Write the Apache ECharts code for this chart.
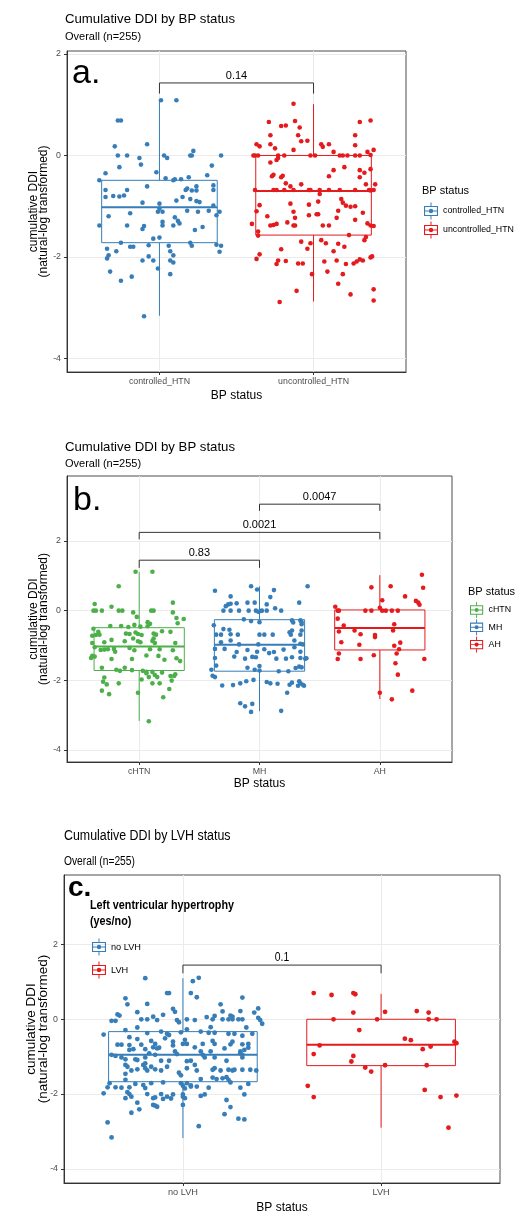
<!DOCTYPE html>
<html>
<head>
<meta charset="utf-8">
<script src="https://cdn.jsdelivr.net/npm/echarts@6/dist/echarts.min.js"></script>
<style>
html, body { margin: 0; padding: 0; background: #fff; }
#chart { width: 521px; height: 1218px; }
</style>
</head>
<body>
<div id="chart"></div>
<script>
// panel a: controlled vs uncontrolled HTN
var groupsA = ['controlled_HTN', 'uncontrolled_HTN'];
var boxA = [[-3.16, -1.72, -1.02, -0.49, 1.10], [-2.88, -1.57, -0.70, 0.00, 1.01]];
var bracketsA = [[1, 2, 1.43, 1.22]];
var pvalsA = ['0.14'];
// points are [jitter, value]
var pointsControlled = [[0.01,1.09],[0.11,1.09],[-0.27,0.69],[-0.25,0.69],[-0.29,0.18],[-0.08,0.22],[-0.27,0],[-0.21,0],[-0.13,-0.05],[0.03,0],[0.05,-0.05],[0.20,0],[0.22,0.09],[0.21,0],[0.40,0],[-0.26,-0.23],[-0.12,-0.18],[-0.02,-0.33],[0.34,-0.20],[-0.35,-0.35],[0.31,-0.39],[-0.39,-0.49],[0.04,-0.45],[0.09,-0.49],[0.10,-0.47],[0.14,-0.47],[0.19,-0.43],[-0.35,-0.68],[-0.21,-0.68],[-0.08,-0.61],[0.17,-0.68],[0.18,-0.65],[0.21,-0.69],[0.24,-0.61],[0.24,-0.69],[0.35,-0.59],[0.35,-0.68],[-0.35,-0.82],[-0.30,-0.80],[-0.26,-0.81],[-0.23,-0.79],[0.15,-0.82],[0.11,-0.89],[0.20,-0.86],[0.24,-0.90],[0.26,-0.92],[-0.11,-0.93],[0.00,-0.95],[0.35,-0.99],[-0.33,-1.20],[-0.19,-1.14],[-0.01,-1.11],[0.02,-1.11],[0.00,-1.05],[0.18,-1.09],[0.25,-1.11],[0.32,-1.09],[0.37,-1.18],[0.39,-1.11],[-0.39,-1.38],[-0.21,-1.38],[-0.11,-1.45],[-0.10,-1.39],[0.02,-1.31],[0.02,-1.38],[0.09,-1.38],[0.10,-1.22],[0.12,-1.29],[0.13,-1.34],[0.23,-1.47],[0.28,-1.41],[-0.04,-1.64],[0.00,-1.62],[-0.25,-1.72],[-0.19,-1.80],[-0.17,-1.80],[-0.07,-1.77],[0.06,-1.78],[0.20,-1.72],[0.21,-1.78],[0.37,-1.76],[0.40,-1.78],[-0.34,-1.84],[-0.28,-1.89],[0.07,-1.89],[0.39,-1.90],[-0.34,-2.03],[-0.33,-1.97],[-0.07,-1.99],[0.09,-1.97],[-0.11,-2.07],[-0.04,-2.07],[0.07,-2.07],[0.09,-2.11],[-0.01,-2.23],[-0.32,-2.29],[0.07,-2.34],[-0.25,-2.47],[-0.18,-2.39],[-0.10,-3.17]];
var pointsUncontrolled = [[-0.13,1.02],[-0.29,0.66],[-0.21,0.58],[-0.18,0.59],[-0.12,0.68],[-0.09,0.55],[0.37,0.69],[0.30,0.66],[-0.28,0.40],[-0.10,0.40],[0.27,0.40],[-0.08,0.28],[-0.04,0.29],[-0.37,0.22],[-0.35,0.18],[-0.28,0.22],[-0.25,0.14],[-0.13,0.11],[0.05,0.22],[0.06,0.17],[0.10,0.22],[0.13,0.07],[0.27,0.20],[0.35,0.07],[0.39,0.11],[-0.39,0],[-0.38,0],[-0.36,0],[-0.23,0],[-0.19,0],[-0.02,0],[0.01,0],[0.17,0],[0.19,0],[0.22,0],[0.27,0],[0.30,0],[0.37,0.01],[-0.24,-0.09],[-0.28,-0.14],[-0.23,-0.05],[0.20,-0.23],[0.13,-0.29],[0.30,-0.29],[0.33,-0.34],[0.37,-0.27],[-0.27,-0.41],[-0.26,-0.38],[-0.21,-0.43],[-0.20,-0.40],[0.10,-0.41],[0.30,-0.43],[-0.18,-0.55],[-0.15,-0.61],[-0.08,-0.57],[0.34,-0.57],[0.40,-0.57],[-0.38,-0.68],[-0.26,-0.68],[-0.24,-0.68],[-0.19,-0.68],[-0.13,-0.68],[-0.03,-0.68],[-0.02,-0.68],[0.04,-0.68],[0.04,-0.76],[0.10,-0.68],[0.17,-0.68],[0.27,-0.68],[0.36,-0.68],[0.39,-0.68],[-0.35,-0.98],[-0.15,-0.95],[-0.03,-0.97],[0.03,-0.91],[0.18,-0.86],[0.19,-0.93],[0.21,-0.99],[0.24,-1.01],[0.27,-1.00],[0.37,-0.69],[-0.37,-1.10],[-0.13,-1.11],[0.03,-1.16],[0.16,-1.09],[0.32,-1.13],[-0.30,-1.20],[-0.12,-1.23],[-0.03,-1.18],[0.02,-1.16],[0.15,-1.23],[-0.40,-1.35],[-0.28,-1.38],[-0.26,-1.37],[-0.24,-1.35],[-0.17,-1.32],[-0.13,-1.38],[-0.12,-1.38],[0.06,-1.38],[0.10,-1.38],[0.27,-1.27],[0.35,-1.34],[0.37,-1.38],[0.39,-1.39],[-0.36,-1.50],[-0.36,-1.58],[0.23,-1.57],[0.34,-1.61],[0.33,-1.67],[-0.08,-1.70],[-0.02,-1.73],[-0.04,-1.84],[0.05,-1.67],[0.08,-1.73],[0.16,-1.74],[0.20,-1.80],[-0.21,-1.85],[-0.35,-1.95],[-0.37,-2.04],[0.13,-1.89],[0.15,-2.07],[0.26,-2.13],[0.28,-2.09],[0.30,-2.05],[0.32,-2.07],[0.37,-2.01],[0.38,-1.99],[-0.24,-2.14],[-0.23,-2.07],[-0.18,-2.08],[-0.10,-2.13],[-0.07,-2.13],[0.07,-2.09],[0.21,-2.14],[0.09,-2.29],[-0.01,-2.34],[0.19,-2.34],[0.16,-2.53],[-0.11,-2.67],[-0.22,-2.89],[0.24,-2.74],[0.39,-2.64],[0.39,-2.86]];

// panel b: cHTN / MH / AH
var groupsB = ['cHTN', 'MH', 'AH'];
var boxB = [[-3.17, -1.72, -1.03, -0.49, 1.11], [-2.89, -1.74, -0.98, -0.26, 0.70], [-2.54, -1.13, -0.50, 0.02, 1.02]];
var bracketsB = [[2, 3, 3.06, 2.87], [1, 3, 2.25, 2.05], [1, 2, 1.45, 1.23]];
var pvalsB = ['0.0047', '0.0021', '0.83'];
var pointsCHTN = [[-0.03,1.12],[0.11,1.12],[-0.17,0.70],[-0.37,0.19],[-0.23,0.11],[0.28,0.23],[-0.38,0],[-0.36,0],[-0.31,0],[-0.17,0],[-0.14,0],[-0.05,-0.05],[0.10,0],[0.12,0],[0.28,-0.05],[-0.02,-0.18],[0.07,-0.33],[0.09,-0.38],[0.32,-0.36],[0.31,-0.21],[0.37,-0.24],[-0.24,-0.44],[-0.15,-0.44],[-0.09,-0.47],[-0.04,-0.41],[0.01,-0.46],[0.07,-0.45],[0.19,-0.59],[0.26,-0.61],[-0.38,-0.52],[-0.34,-0.61],[-0.39,-0.72],[-0.36,-0.70],[-0.33,-0.69],[-0.11,-0.66],[-0.08,-0.67],[-0.05,-0.80],[-0.03,-0.63],[-0.01,-0.67],[0.02,-0.70],[0.12,-0.66],[0.12,-0.80],[0.14,-0.69],[-0.39,-0.93],[-0.29,-0.91],[-0.23,-0.84],[-0.12,-0.88],[-0.01,-0.88],[0.01,-0.91],[0.11,-0.87],[0.13,-0.93],[0.30,-0.93],[-0.37,-1.05],[-0.32,-1.13],[-0.29,-1.12],[-0.26,-1.11],[-0.21,-1.10],[-0.20,-1.18],[-0.08,-1.07],[-0.04,-1.14],[0.09,-1.11],[0.17,-1.11],[0.28,-1.14],[-0.40,-1.36],[-0.39,-1.30],[-0.37,-1.32],[-0.23,-1.39],[-0.06,-1.39],[0.06,-1.29],[0.16,-1.30],[0.21,-1.41],[0.31,-1.37],[0.34,-1.45],[-0.31,-1.64],[-0.12,-1.64],[-0.16,-1.73],[-0.19,-1.70],[-0.06,-1.71],[0.03,-1.73],[0.06,-1.76],[0.11,-1.76],[0.19,-1.78],[0.30,-1.83],[-0.29,-1.92],[-0.30,-2.04],[-0.27,-2.12],[-0.17,-2.09],[0.02,-1.98],[0.06,-1.80],[0.08,-1.91],[0.13,-1.85],[0.15,-1.91],[0.26,-1.88],[0.27,-2.01],[0.29,-1.88],[-0.31,-2.30],[-0.25,-2.40],[-0.01,-2.36],[0.11,-2.09],[0.17,-2.09],[0.25,-2.25],[0.20,-2.49],[0.08,-3.18]];
var pointsMH = [[-0.37,0.57],[-0.24,0.41],[-0.07,0.70],[-0.02,0.61],[0.12,0.59],[0.09,0.39],[0.40,0.70],[-0.28,0.13],[-0.26,0.18],[-0.24,0.20],[-0.19,0.21],[-0.10,0.23],[-0.04,0.23],[0.06,0.18],[0.33,0.23],[-0.30,0],[-0.24,0],[-0.17,0],[-0.09,0],[-0.03,0],[-0.01,-0.03],[0.01,-0.01],[0.02,0],[0.06,0],[0.18,0],[0.13,0.07],[-0.13,-0.25],[-0.07,-0.30],[0.00,-0.33],[0.27,-0.28],[0.28,-0.34],[0.34,-0.28],[0.35,-0.33],[0.35,-0.39],[-0.38,-0.42],[-0.30,-0.53],[-0.25,-0.55],[-0.36,-0.69],[-0.32,-0.69],[-0.24,-0.68],[-0.18,-0.69],[0.00,-0.69],[0.04,-0.69],[0.11,-0.69],[0.26,-0.69],[0.27,-0.57],[0.25,-0.62],[0.35,-0.57],[0.34,-0.69],[-0.24,-0.86],[-0.32,-0.91],[-0.17,-0.97],[-0.01,-0.97],[0.29,-0.86],[0.34,-0.95],[0.36,-0.97],[-0.37,-1.10],[-0.29,-1.10],[-0.19,-1.19],[-0.10,-1.13],[-0.02,-1.18],[0.04,-1.11],[0.08,-1.22],[0.12,-1.19],[0.20,-1.12],[0.29,-1.05],[0.34,-1.18],[-0.37,-1.36],[-0.21,-1.32],[-0.12,-1.38],[-0.06,-1.33],[-0.03,-1.34],[0.14,-1.38],[0.22,-1.38],[0.27,-1.34],[0.34,-1.36],[0.38,-1.38],[0.39,-1.37],[-0.40,-1.70],[-0.36,-1.58],[-0.04,-1.70],[-0.10,-1.64],[0.00,-1.59],[0.16,-1.74],[0.24,-1.74],[0.30,-1.65],[0.33,-1.61],[0.35,-1.63],[-0.39,-1.87],[-0.37,-1.91],[-0.31,-2.15],[-0.22,-2.14],[-0.16,-2.09],[-0.11,-2.03],[-0.05,-1.99],[0.00,-1.72],[0.06,-2.05],[0.09,-2.09],[0.15,-2.10],[0.25,-2.13],[0.27,-2.07],[0.33,-2.03],[0.34,-2.09],[0.36,-2.13],[0.37,-2.16],[0.32,-2.16],[0.23,-2.36],[-0.16,-2.66],[-0.12,-2.75],[-0.06,-2.68],[-0.07,-2.91],[0.18,-2.88]];
var pointsAH = [[0.35,1.03],[0.36,0.66],[-0.07,0.67],[0.09,0.70],[0.21,0.41],[0.30,0.28],[0.32,0.23],[0.33,0.17],[0.02,0.30],[-0.37,0.11],[-0.35,0],[-0.34,0],[-0.12,0],[-0.07,0],[0.00,0.08],[0.02,0],[0.05,0],[0.10,0],[0.15,0],[-0.35,-0.23],[-0.30,-0.43],[0.12,-0.39],[0.11,-0.57],[-0.34,-0.60],[-0.21,-0.57],[-0.16,-0.68],[-0.04,-0.70],[-0.04,-0.76],[-0.32,-0.91],[-0.17,-0.98],[0.12,-1.01],[0.17,-0.92],[0.16,-1.11],[0.14,-1.23],[-0.34,-1.23],[-0.35,-1.39],[-0.16,-1.39],[-0.05,-1.28],[0.37,-1.39],[0.13,-1.51],[0.15,-1.84],[0.00,-2.36],[0.27,-2.30],[0.10,-2.55]];

// panel c: LVH status
var groupsC = ['no LVH', 'LVH'];
var boxC = [[-3.18, -1.67, -0.95, -0.33, 1.10], [-2.90, -1.24, -0.68, 0.00, 0.68]];
var bracketsC = [[1, 2, 1.45, 1.23]];
var pvalsC = ['0.1'];
var pointsNoLVH = [[-0.19,1.10],[0.05,1.02],[0.08,1.11],[-0.08,0.70],[-0.07,0.70],[0.04,0.70],[0.07,0.59],[-0.29,0.56],[-0.28,0.40],[-0.18,0.41],[0.30,0.58],[0.19,0.40],[-0.05,0.28],[-0.04,0.20],[0.20,0.21],[0.29,0.22],[0.36,0.18],[0.38,0.29],[-0.23,0.19],[-0.33,0.13],[-0.32,0.10],[-0.10,0.12],[-0.15,0.07],[0.12,0.06],[0.16,0.09],[0.24,0.10],[0.25,0.07],[0.38,0.04],[-0.36,-0.04],[-0.34,-0.04],[-0.21,0],[-0.18,0],[-0.13,-0.02],[-0.03,-0.02],[-0.02,-0.08],[0.02,0],[0.06,-0.02],[0.15,0],[0.20,0],[0.23,0],[0.25,0],[0.28,0],[0.30,0],[0.39,-0.02],[0.40,-0.12],[-0.29,-0.29],[-0.23,-0.22],[-0.18,-0.37],[-0.11,-0.33],[-0.08,-0.39],[-0.07,-0.42],[-0.01,-0.35],[0.02,-0.27],[0.09,-0.33],[0.14,-0.21],[0.13,-0.36],[0.16,-0.36],[0.23,-0.39],[0.26,-0.39],[0.30,-0.44],[0.35,-0.39],[-0.40,-0.41],[0.32,-0.22],[-0.33,-0.68],[-0.31,-0.68],[-0.27,-0.48],[-0.27,-0.69],[-0.23,-0.53],[-0.21,-0.68],[-0.16,-0.58],[-0.14,-0.66],[-0.12,-0.76],[-0.09,-0.51],[-0.05,-0.60],[-0.05,-0.70],[0.00,-0.66],[0.02,-0.66],[0.01,-0.55],[0.10,-0.66],[0.15,-0.58],[0.16,-0.66],[0.24,-0.67],[0.25,-0.60],[0.30,-0.67],[0.33,-0.76],[0.33,-0.66],[-0.27,-0.82],[-0.25,-0.80],[-0.19,-0.80],[-0.15,-0.75],[-0.13,-0.78],[0.06,-0.75],[0.09,-0.86],[0.21,-0.78],[0.31,-0.82],[0.29,-0.86],[-0.36,-0.95],[-0.34,-0.98],[-0.31,-1.02],[-0.29,-1.07],[-0.24,-1.07],[-0.23,-1.09],[-0.19,-1.02],[-0.17,-0.91],[-0.14,-0.95],[-0.11,-1.11],[-0.07,-1.11],[-0.04,-0.86],[-0.03,-0.93],[0.02,-1.12],[0.04,-1.11],[0.10,-0.95],[0.11,-1.02],[0.14,-0.86],[0.16,-1.02],[0.22,-1.11],[0.30,-0.95],[0.30,-1.02],[0.29,-0.91],[-0.29,-1.22],[-0.28,-1.27],[-0.26,-1.37],[-0.23,-1.34],[-0.20,-1.22],[-0.19,-1.18],[-0.19,-1.31],[-0.18,-1.37],[-0.16,-1.27],[-0.14,-1.34],[-0.11,-1.37],[-0.08,-1.27],[-0.02,-1.43],[-0.01,-1.50],[0.02,-1.31],[0.06,-1.22],[0.07,-1.37],[0.15,-1.35],[0.16,-1.31],[0.19,-1.37],[0.23,-1.35],[0.25,-1.37],[0.26,-1.35],[0.30,-1.35],[0.34,-1.35],[0.37,-1.37],[-0.29,-1.46],[0.15,-1.56],[0.17,-1.60],[0.20,-1.58],[0.22,-1.55],[0.23,-1.62],[0.24,-1.69],[-0.29,-1.62],[-0.24,-1.73],[-0.16,-1.71],[-0.10,-1.69],[-0.01,-1.71],[0.02,-1.71],[0.09,-1.60],[0.33,-1.73],[-0.37,-1.71],[-0.38,-1.82],[-0.34,-1.82],[-0.31,-1.83],[-0.27,-1.82],[-0.20,-1.76],[-0.19,-1.84],[0.00,-1.78],[0.01,-1.85],[0.04,-1.80],[0.04,-1.77],[0.07,-1.80],[0.13,-1.83],[0.29,-1.83],[-0.40,-1.98],[-0.28,-1.95],[-0.26,-2.07],[-0.27,-2.00],[-0.18,-2.00],[-0.11,-2.00],[-0.08,-2.07],[-0.05,-2.01],[0.00,-2.01],[0.00,-2.07],[0.01,-2.11],[0.09,-2.05],[0.11,-2.01],[0.31,-2.01],[-0.29,-2.11],[-0.23,-2.23],[-0.22,-2.41],[-0.15,-2.11],[-0.14,-2.09],[-0.15,-2.29],[-0.14,-2.31],[-0.13,-2.34],[-0.10,-2.13],[-0.06,-2.12],[0.00,-2.29],[0.22,-2.16],[0.24,-2.35],[-0.26,-2.50],[0.21,-2.54],[0.28,-2.66],[0.31,-2.68],[-0.38,-2.76],[0.08,-2.86],[-0.36,-3.16]];
var pointsLVH = [[-0.34,0.70],[-0.25,0.65],[-0.14,0.70],[-0.13,0.67],[-0.14,0.18],[0.02,0.20],[0.18,0.22],[0.24,0.18],[-0.24,0],[-0.02,0],[0.24,0],[0.28,0],[-0.11,-0.29],[0.12,-0.52],[0.15,-0.56],[-0.31,-0.70],[-0.34,-0.93],[0.21,-0.80],[0.25,-0.73],[0.37,-0.60],[0.38,-0.64],[-0.14,-0.98],[-0.15,-1.13],[-0.08,-1.29],[-0.05,-1.40],[0.02,-1.23],[0.23,-1.23],[-0.37,-1.78],[-0.34,-2.08],[0.22,-1.89],[0.30,-2.08],[0.38,-2.04],[0.34,-2.90]];

var yTicks = [-4, -2, 0, 2];

var BLUE = '#377EB8', RED = '#E41A1C', GREEN = '#4DAF4A';
var SANS = "'Liberation Sans', Arial, sans-serif";
var BOX_ICON = 'path://M0,3.5L14,3.5L14,13.5L0,13.5Z M1.1,4.6L1.1,12.4L12.9,12.4L12.9,4.6Z M1,8L13,8L13,9L1,9Z M6.5,0L7.5,0L7.5,3.5L6.5,3.5Z M6.5,13.5L7.5,13.5L7.5,17L6.5,17Z M9.2,8.5A2.2,2.2 0 1 1 4.8,8.5A2.2,2.2 0 1 1 9.2,8.5Z';

function renderBox(params, api) {
    var c = api.value(0);
    var half = 0.375;
    var color = api.visual('color');
    var lo = api.coord([c, api.value(1)]);
    var q1 = api.coord([c, api.value(2)]);
    var q3 = api.coord([c, api.value(4)]);
    var hi = api.coord([c, api.value(5)]);
    var tl = api.coord([c - half, api.value(4)]);
    var br = api.coord([c + half, api.value(2)]);
    var mL = api.coord([c - half, api.value(3)]);
    var mR = api.coord([c + half, api.value(3)]);
    return {
        type: 'group',
        children: [
            {type: 'line', shape: {x1: hi[0], y1: hi[1], x2: q3[0], y2: q3[1]}, style: {stroke: color, lineWidth: 1}},
            {type: 'line', shape: {x1: q1[0], y1: q1[1], x2: lo[0], y2: lo[1]}, style: {stroke: color, lineWidth: 1}},
            {type: 'rect', shape: {x: tl[0], y: tl[1], width: br[0] - tl[0], height: br[1] - tl[1]}, style: {fill: '#fff', stroke: color, lineWidth: 1}},
            {type: 'line', shape: {x1: mL[0], y1: mL[1], x2: mR[0], y2: mR[1]}, style: {stroke: color, lineWidth: 2}}
        ]
    };
}

function boxSeries(idx, stats, colors) {
    return {
        type: 'custom',
        name: 'box' + idx,
        xAxisIndex: idx,
        yAxisIndex: idx,
        z: 2,
        renderItem: renderBox,
        encode: {x: 0, y: [1, 2, 3, 4, 5]},
        data: stats.map(function(s, i) {
            return {value: [i + 1].concat(s), itemStyle: {color: colors[i]}};
        })
    };
}

function bracketSeries(idx, brackets, labels, size, sx) {
    return {
        type: 'custom',
        name: 'bracket' + idx,
        xAxisIndex: idx,
        yAxisIndex: idx,
        z: 4,
        silent: true,
        encode: {x: [0, 1], y: [2, 3]},
        renderItem: function(params, api) {
            var a = api.coord([api.value(0), api.value(2)]);
            var b = api.coord([api.value(1), api.value(2)]);
            var aLow = api.coord([api.value(0), api.value(3)]);
            var bLow = api.coord([api.value(1), api.value(3)]);
            return {
                type: 'group',
                children: [
                    {type: 'polyline', shape: {points: [aLow, a, b, bLow]}, style: {stroke: '#333', lineWidth: 1, fill: null}},
                    {type: 'text', x: (a[0] + b[0]) / 2, y: a[1] - 1.5, scaleX: sx, style: {
                        text: labels[params.dataIndex], fill: '#000', fontSize: size, fontFamily: SANS,
                        align: 'center', verticalAlign: 'bottom'
                    }}
                ]
            };
        },
        data: brackets
    };
}

function jitterSeries(idx, name, cat, pts, color, size) {
    return {
        type: 'scatter',
        name: name,
        xAxisIndex: idx,
        yAxisIndex: idx,
        z: 3,
        symbolSize: size,
        itemStyle: {color: color, opacity: 1},
        data: pts.map(function(p) { return [cat + p[0], p[1]]; })
    };
}

function xAxisFor(idx, max, cats, labelSize, nameSize, nameGap) {
    var pos = cats.map(function(c, i) { return i + 1; });
    return {
        type: 'value', gridIndex: idx, min: 0.4, max: max, minInterval: 1, maxInterval: 1,
        name: 'BP status', nameLocation: 'middle', nameGap: nameGap, nameMoveOverlap: false,
        nameTextStyle: {fontSize: nameSize, color: '#000', fontFamily: SANS},
        axisLine: {show: true, onZero: false, lineStyle: {color: '#333'}},
        axisTick: {show: true, length: 3, customValues: pos, lineStyle: {color: '#333'}},
        axisLabel: {
            customValues: pos, fontSize: labelSize, color: '#4d4d4d', margin: 5, fontFamily: SANS,
            formatter: function(v) { return cats[Math.round(v) - 1]; }
        },
        splitLine: {show: true, lineStyle: {color: '#ebebeb'}}
    };
}

function yAxisFor(idx, min, max, nameSize, lineH, nameGap) {
    return {
        type: 'value', gridIndex: idx, min: min, max: max, minInterval: 1, maxInterval: 1,
        name: 'cumulative DDI\n(natural-log transformed)', nameLocation: 'middle', nameRotate: 90,
        nameGap: nameGap, nameMoveOverlap: false,
        nameTextStyle: {fontSize: nameSize, lineHeight: lineH, color: '#000', fontFamily: SANS},
        axisLine: {show: true, onZero: false, lineStyle: {color: '#333'}},
        axisTick: {show: true, length: 3, customValues: yTicks, lineStyle: {color: '#333'}},
        axisLabel: {customValues: yTicks, fontSize: 8.8, color: '#4d4d4d', margin: 6, fontFamily: SANS},
        splitLine: {show: true, lineStyle: {color: '#ebebeb'}}
    };
}

function legendFor(groups, left, top, itemH, gap, size) {
    return {
        data: groups.map(function(g) { return {name: g, icon: BOX_ICON}; }),
        orient: 'vertical', left: left, top: top, padding: 0,
        itemWidth: 14, itemHeight: itemH, itemGap: gap,
        textStyle: {fontSize: size, color: '#000', fontFamily: SANS}
    };
}

function label(text, x, y, size, weight, sx, lineH) {
    return {
        type: 'text', x: x, y: y, scaleX: sx || 1, z: 10,
        style: {text: text, fill: '#000', fontSize: size, fontWeight: weight || 'normal',
                fontFamily: SANS, lineHeight: lineH || size * 1.2, align: 'left', verticalAlign: 'top'}
    };
}

var chart = echarts.init(document.getElementById('chart'), null, {renderer: 'canvas'});

var option = {
    animation: false,
    backgroundColor: '#fff',
    textStyle: {fontFamily: SANS},
    graphic: [
        label('Cumulative DDI by BP status', 65, 11, 13.2),
        label('Overall (n=255)', 65, 30, 11),
        label('a.', 72, 53, 34),
        label('BP status', 422, 184, 11),

        label('Cumulative DDI by BP status', 65, 439, 13.2),
        label('Overall (n=255)', 65, 457, 11),
        label('b.', 73, 480, 34),
        label('BP status', 468, 585, 11),

        label('Cumulative DDI by LVH status', 64, 826, 15.5, 'normal', 0.8),
        label('Overall (n=255)', 64, 854, 12.5, 'normal', 0.82),
        label('c.', 68, 871, 28, 'bold'),
        label('Left ventricular hypertrophy\n(yes/no)', 90, 898, 13.5, 'bold', 0.8, 15.5)
    ],
    legend: [
        legendFor(groupsA, 424, 202.5, 17, 2, 8.8),
        legendFor(groupsB, 470, 602, 16, 1.3, 8.8),
        legendFor(groupsC, 92, 938.5, 17, 6, 9.2)
    ],
    grid: [
        {left: 67, top: 51, width: 339, height: 321, show: true, borderColor: '#4d4d4d', borderWidth: 1},
        {left: 67, top: 476, width: 385, height: 286, show: true, borderColor: '#4d4d4d', borderWidth: 1},
        {left: 64, top: 875, width: 436, height: 308, show: true, borderColor: '#4d4d4d', borderWidth: 1}
    ],
    xAxis: [
        xAxisFor(0, 2.6, groupsA, 8.8, 12, 18),
        xAxisFor(1, 3.6, groupsB, 8.8, 12, 16),
        xAxisFor(2, 2.6, groupsC, 9.2, 12, 19)
    ],
    yAxis: [
        yAxisFor(0, -4.27, 2.06, 12, 10.5, 18),
        yAxisFor(1, -4.35, 3.87, 12, 10.5, 18),
        yAxisFor(2, -4.38, 3.86, 13.5, 11.5, 15)
    ],
    series: [
        boxSeries(0, boxA, [BLUE, RED]),
        jitterSeries(0, groupsA[0], 1, pointsControlled, BLUE, 4.6),
        jitterSeries(0, groupsA[1], 2, pointsUncontrolled, RED, 4.6),
        bracketSeries(0, bracketsA, pvalsA, 11, 1),

        boxSeries(1, boxB, [GREEN, BLUE, RED]),
        jitterSeries(1, groupsB[0], 1, pointsCHTN, GREEN, 4.6),
        jitterSeries(1, groupsB[1], 2, pointsMH, BLUE, 4.6),
        jitterSeries(1, groupsB[2], 3, pointsAH, RED, 4.6),
        bracketSeries(1, bracketsB, pvalsB, 11, 1),

        boxSeries(2, boxC, [BLUE, RED]),
        jitterSeries(2, groupsC[0], 1, pointsNoLVH, BLUE, 4.8),
        jitterSeries(2, groupsC[1], 2, pointsLVH, RED, 4.8),
        bracketSeries(2, bracketsC, pvalsC, 13, 0.8)
    ]
};

chart.setOption(option);
</script>
</body>
</html>
